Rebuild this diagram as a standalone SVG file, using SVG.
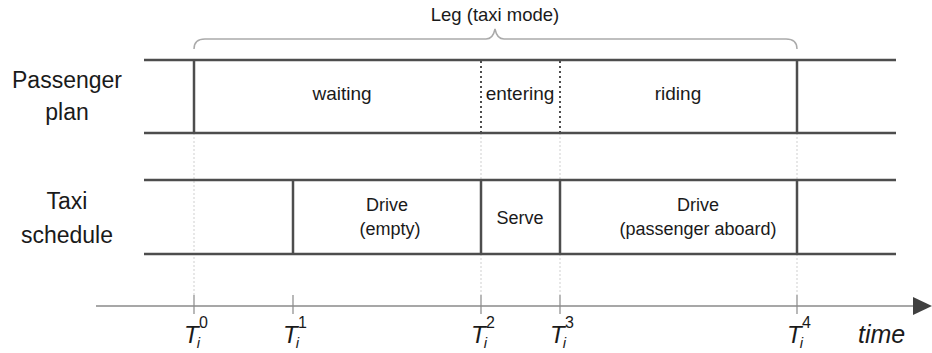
<svg xmlns="http://www.w3.org/2000/svg" width="932" height="353" viewBox="0 0 932 353">
<style>
.lane{stroke:#4d4d4d;stroke-width:2.5;fill:none}
.bound{stroke:#4d4d4d;stroke-width:2.5;fill:none}
.dot{stroke:#4d4d4d;stroke-width:2;stroke-dasharray:2 3;fill:none}
.faint{stroke:#cfcfcf;stroke-width:1;stroke-dasharray:2 2;fill:none}
.tick{stroke:#8a8a8a;stroke-width:1.2}
.axis{stroke:#8a8a8a;stroke-width:1.5}
.brace{stroke:#aaaaaa;stroke-width:1.5;fill:none}
.lbl{font-family:"Liberation Sans",Arial,sans-serif;fill:#1a1a1a;text-anchor:middle}
.big{font-size:23px}
.mid{font-size:19px}
.sm{font-size:18px}
.t{font-family:"Liberation Sans",Arial,sans-serif;font-style:italic;fill:#1a1a1a}
.sup{font-style:normal;font-size:16px}
</style>
<rect width="932" height="353" fill="#ffffff"/>
<g id="connectors">
<path class="faint" d="M194 133V295M481 133V180M481 254V295M560 133V180M560 254V295M797 133V180M797 254V295"/>
<line class="axis" x1="96" y1="306" x2="915" y2="306"/>
<path d="M913 297L932 306L913 315Z" fill="#404040"/>
<path class="tick" d="M194 295V314M293 295V314M481 295V314M560 295V314M797 295V314"/>
<path class="brace" d="M194 49Q194 39 205 39H486Q493 39 495 29Q497 39 504 39H786Q797 39 797 49"/>
</g>
<g id="leg-label"><text class="lbl" style="font-size:18.5px" x="495" y="21">Leg (taxi mode)</text></g>
<g id="passenger-plan">
<line class="lane" x1="144" y1="60" x2="896" y2="60"/>
<line class="lane" x1="144" y1="133" x2="896" y2="133"/>
<line class="bound" x1="194" y1="60" x2="194" y2="133"/>
<line class="dot" x1="481" y1="61" x2="481" y2="132"/>
<line class="dot" x1="560" y1="61" x2="560" y2="132"/>
<line class="bound" x1="797" y1="60" x2="797" y2="133"/>
<text class="lbl big" x="67" y="88">Passenger</text>
<text class="lbl big" x="67" y="120">plan</text>
</g>
<g id="waiting"><text class="lbl mid" x="342" y="100">waiting</text></g>
<g id="entering"><text class="lbl mid" x="520" y="100">entering</text></g>
<g id="riding"><text class="lbl mid" x="678" y="100">riding</text></g>
<g id="taxi-schedule">
<line class="lane" x1="144" y1="180" x2="896" y2="180"/>
<line class="lane" x1="144" y1="254" x2="896" y2="254"/>
<line class="bound" x1="293" y1="180" x2="293" y2="254"/>
<line class="bound" x1="481" y1="180" x2="481" y2="254"/>
<line class="bound" x1="560" y1="180" x2="560" y2="254"/>
<line class="bound" x1="797" y1="180" x2="797" y2="254"/>
<text class="lbl big" x="67" y="209">Taxi</text>
<text class="lbl big" x="67" y="243">schedule</text>
</g>
<g id="drive-empty"><text class="lbl sm" x="387" y="211">Drive</text><text class="lbl sm" x="390" y="235">(empty)</text></g>
<g id="serve"><text class="lbl sm" x="520" y="224">Serve</text></g>
<g id="drive-aboard"><text class="lbl sm" x="698" y="211">Drive</text><text class="lbl sm" x="698" y="235">(passenger aboard)</text></g>
<g id="time-labels">
<text class="t" x="184" y="343" font-size="24">T<tspan font-size="15" dx="-2" dy="5">i</tspan><tspan class="sup" dx="-1" dy="-20">0</tspan></text>
<text class="t" x="283" y="343" font-size="24">T<tspan font-size="15" dx="-2" dy="5">i</tspan><tspan class="sup" dx="-1" dy="-20">1</tspan></text>
<text class="t" x="471" y="343" font-size="24">T<tspan font-size="15" dx="-2" dy="5">i</tspan><tspan class="sup" dx="-1" dy="-20">2</tspan></text>
<text class="t" x="550" y="343" font-size="24">T<tspan font-size="15" dx="-2" dy="5">i</tspan><tspan class="sup" dx="-1" dy="-20">3</tspan></text>
<text class="t" x="787" y="343" font-size="24">T<tspan font-size="15" dx="-2" dy="5">i</tspan><tspan class="sup" dx="-1" dy="-20">4</tspan></text>
<text class="t" x="858" y="343" font-size="25">time</text>
</g>
</svg>
